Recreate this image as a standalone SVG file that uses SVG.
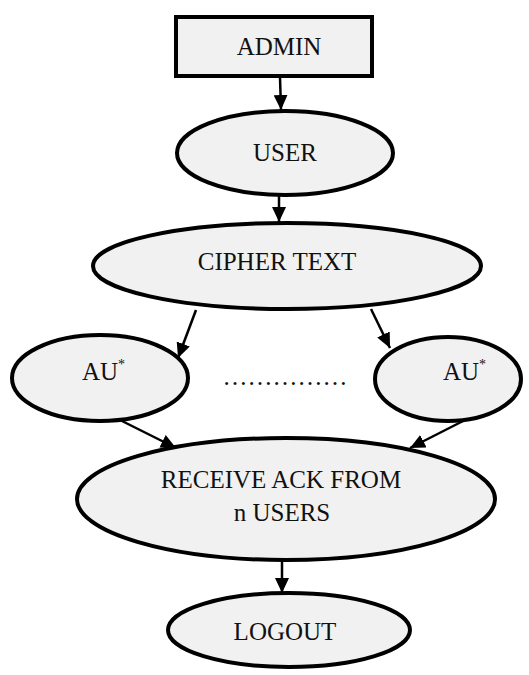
<svg xmlns="http://www.w3.org/2000/svg" width="529" height="675" viewBox="0 0 529 675">
<style>
.n{fill:#f1f1f1;stroke:#000;stroke-width:4}
.t{font-family:"Liberation Serif","Times New Roman",serif;font-size:25px;fill:#111;text-anchor:middle}
.s{text-anchor:start}
.c{stroke:#000;stroke-width:2.5;fill:none;marker-end:url(#ah)}
</style>
<defs>
<marker id="ah" viewBox="0 0 15 14" refX="15" refY="7" markerWidth="15" markerHeight="14" markerUnits="userSpaceOnUse" orient="auto">
<path d="M0,0 L15,7 L0,14 Z" fill="#000"/>
</marker>
</defs>
<g id="connectors">
<line class="c" x1="280" y1="77" x2="281" y2="110"/>
<line class="c" x1="279" y1="196" x2="279" y2="222"/>
<line class="c" x1="196" y1="310" x2="178" y2="358"/>
<line class="c" x1="371" y1="309" x2="390" y2="348"/>
<line class="c" x1="118" y1="419" x2="176" y2="448"/>
<line class="c" x1="467" y1="419" x2="410" y2="448"/>
<line class="c" x1="282" y1="561" x2="282" y2="593"/>
</g>
<g id="admin">
<rect class="n" x="176" y="17" width="196" height="59"/>
<text class="t" x="279" y="55">ADMIN</text>
</g>
<g id="user">
<ellipse class="n" cx="285" cy="153" rx="108" ry="42"/>
<text class="t" x="285" y="161">USER</text>
</g>
<g id="cipher">
<ellipse class="n" cx="287" cy="266" rx="194" ry="43"/>
<text class="t" x="277" y="270">CIPHER TEXT</text>
</g>
<g id="au1">
<ellipse class="n" cx="100" cy="378" rx="88" ry="43"/>
<text class="t s" x="82" y="380">AU<tspan font-size="14" dy="-11">*</tspan></text>
</g>
<g id="dots">
<text class="t" x="285" y="385" font-size="20">……………</text>
</g>
<g id="au2">
<ellipse class="n" cx="448" cy="379" rx="73" ry="42"/>
<text class="t s" x="443" y="380">AU<tspan font-size="14" dy="-11">*</tspan></text>
</g>
<g id="receive">
<ellipse class="n" cx="286" cy="499" rx="209" ry="61"/>
<text class="t" x="281" y="488">RECEIVE ACK FROM</text>
<text class="t" x="282" y="521">n USERS</text>
</g>
<g id="logout">
<ellipse class="n" cx="289" cy="630" rx="121" ry="37"/>
<text class="t" x="285" y="640">LOGOUT</text>
</g>
</svg>
